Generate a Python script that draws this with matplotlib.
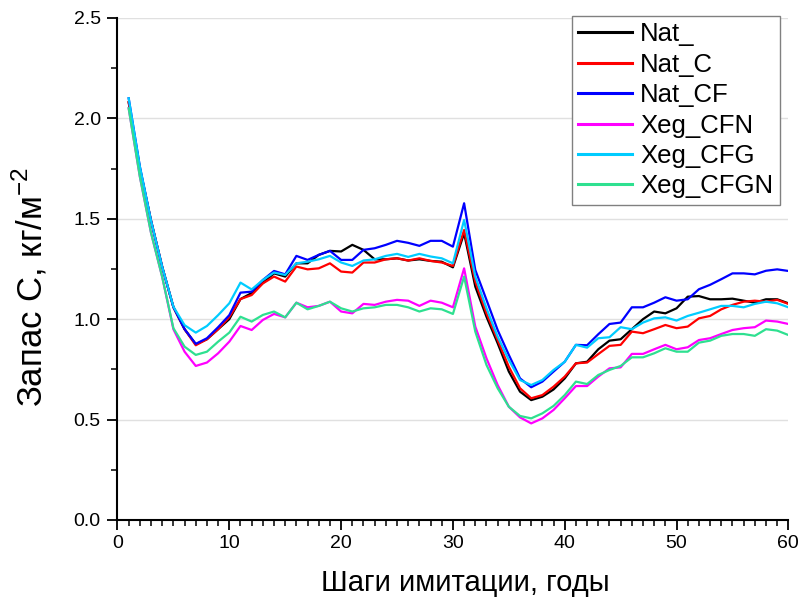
import matplotlib
matplotlib.use("Agg")
import matplotlib.pyplot as plt
from matplotlib.ticker import MultipleLocator

plt.rcParams['font.family'] = ['Liberation Sans', 'DejaVu Sans']

steps = list(range(1, 61))

nat = [2.08, 1.75, 1.49, 1.26, 1.06, 0.95, 0.875, 0.90, 0.95, 1.00, 1.10, 1.13,
       1.18, 1.228, 1.212, 1.278, 1.278, 1.32, 1.34, 1.337, 1.37, 1.345, 1.298, 1.298,
       1.303, 1.292, 1.298, 1.29, 1.286, 1.258, 1.428, 1.162, 1.012, 0.880, 0.739, 0.639,
       0.597, 0.614, 0.650, 0.705, 0.780, 0.788, 0.850, 0.893, 0.900, 0.950, 1.000, 1.038,
       1.029, 1.054, 1.112, 1.115, 1.099, 1.099, 1.102, 1.092, 1.082, 1.099, 1.099, 1.079]

nat_c = [2.08, 1.75, 1.49, 1.26, 1.06, 0.95, 0.87, 0.90, 0.95, 1.01, 1.10, 1.12,
         1.178, 1.212, 1.187, 1.262, 1.248, 1.253, 1.278, 1.237, 1.232, 1.282, 1.282, 1.298,
         1.303, 1.292, 1.303, 1.29, 1.282, 1.265, 1.444, 1.187, 1.029, 0.896, 0.763, 0.656,
         0.606, 0.622, 0.664, 0.714, 0.780, 0.784, 0.826, 0.867, 0.872, 0.938, 0.930, 0.950,
         0.971, 0.955, 0.963, 1.004, 1.016, 1.049, 1.071, 1.087, 1.092, 1.087, 1.096, 1.076]

nat_cf = [2.10, 1.76, 1.49, 1.26, 1.06, 0.95, 0.877, 0.905, 0.96, 1.02, 1.132, 1.137,
          1.195, 1.24, 1.223, 1.315, 1.295, 1.32, 1.34, 1.295, 1.295, 1.345, 1.353, 1.37,
          1.39, 1.38, 1.365, 1.39, 1.39, 1.361, 1.577, 1.245, 1.096, 0.946, 0.822, 0.705,
          0.661, 0.689, 0.739, 0.788, 0.872, 0.870, 0.925, 0.976, 0.983, 1.059, 1.059, 1.082,
          1.109, 1.092, 1.099, 1.149, 1.171, 1.199, 1.228, 1.228, 1.223, 1.241, 1.248, 1.24]

xeg_cfn = [2.05, 1.71, 1.43, 1.21, 0.95, 0.838, 0.767, 0.784, 0.83, 0.888, 0.966, 0.946,
           0.996, 1.026, 1.009, 1.082, 1.059, 1.066, 1.087, 1.038, 1.029, 1.076, 1.071, 1.087,
           1.096, 1.092, 1.066, 1.092, 1.082, 1.059, 1.253, 0.963, 0.805, 0.672, 0.564, 0.511,
           0.481, 0.506, 0.548, 0.606, 0.667, 0.667, 0.714, 0.755, 0.760, 0.827, 0.827, 0.850,
           0.872, 0.850, 0.860, 0.896, 0.905, 0.926, 0.946, 0.955, 0.960, 0.993, 0.988, 0.976]

xeg_cfg = [2.10, 1.76, 1.49, 1.26, 1.062, 0.97, 0.933, 0.966, 1.02, 1.079, 1.182, 1.148,
           1.195, 1.232, 1.22, 1.278, 1.286, 1.298, 1.315, 1.282, 1.265, 1.292, 1.298, 1.315,
           1.325, 1.31, 1.325, 1.312, 1.303, 1.278, 1.494, 1.212, 1.054, 0.913, 0.797, 0.697,
           0.672, 0.697, 0.747, 0.788, 0.872, 0.858, 0.905, 0.910, 0.960, 0.950, 0.983, 1.004,
           1.009, 0.993, 1.016, 1.032, 1.049, 1.066, 1.066, 1.059, 1.076, 1.087, 1.079, 1.059]

xeg_cfgn = [2.05, 1.71, 1.43, 1.21, 0.955, 0.863, 0.822, 0.838, 0.888, 0.933, 1.012, 0.988,
            1.021, 1.038, 1.009, 1.082, 1.049, 1.066, 1.087, 1.054, 1.038, 1.054, 1.059, 1.071,
            1.071, 1.059, 1.038, 1.054, 1.049, 1.026, 1.212, 0.938, 0.772, 0.656, 0.564, 0.518,
            0.506, 0.531, 0.568, 0.622, 0.689, 0.677, 0.722, 0.747, 0.767, 0.810, 0.810, 0.830,
            0.855, 0.838, 0.838, 0.883, 0.893, 0.917, 0.926, 0.926, 0.917, 0.950, 0.943, 0.921]

series = [
    ("Nat_", nat, "#000000"),
    ("Nat_C", nat_c, "#ff0000"),
    ("Nat_CF", nat_cf, "#0000ff"),
    ("Xeg_CFN", xeg_cfn, "#ff00ff"),
    ("Xeg_CFG", xeg_cfg, "#00ccff"),
    ("Xeg_CFGN", xeg_cfgn, "#2ee090"),
]

fig = plt.figure(figsize=(8.02, 5.97), dpi=100)
ax = fig.add_axes([0.1465, 0.129, 0.8365, 0.841])

for name, vals, col in series:
    ax.plot(steps, vals, color=col, lw=1.6, label=name)

ax.set_xlim(0, 60)
ax.set_ylim(0, 2.5)
ax.xaxis.set_major_locator(MultipleLocator(10))
ax.xaxis.set_minor_locator(MultipleLocator(1))
ax.yaxis.set_major_locator(MultipleLocator(0.5))
ax.yaxis.set_minor_locator(MultipleLocator(0.25))
ax.yaxis.set_major_formatter(matplotlib.ticker.FormatStrFormatter('%.1f'))

ax.grid(axis='y', which='major', color='#e0e0e0', lw=1.0)
ax.set_axisbelow(True)
for s in ['top', 'right']:
    ax.spines[s].set_visible(False)
for s in ['left', 'bottom']:
    ax.spines[s].set_linewidth(1.5)

ax.tick_params(which='major', direction='out', length=7, width=1.3, labelsize=14, colors='#000000')
ax.tick_params(which='minor', direction='out', length=4, width=1.1)
ax.tick_params(axis='y', which='major', pad=5)
ax.tick_params(axis='x', which='major', pad=4)

ax.set_xlabel('Шаги имитации, годы', fontsize=21)
ax.set_ylabel('Запас С, кг/м$^{\\mathregular{-2}}$', fontsize=25)
ax.xaxis.set_label_coords(0.519, -0.097)
ax.yaxis.set_label_coords(-0.101, 0.465)

leg = ax.legend(loc='upper right', bbox_to_anchor=(0.987, 1.004), fontsize=18.5,
                frameon=True, fancybox=False, edgecolor='#808080', framealpha=1,
                handlelength=2.1, handletextpad=0.3, labelspacing=0.25,
                borderpad=0.25, borderaxespad=0)
leg.get_frame().set_linewidth(1.0)
for l in leg.get_lines():
    l.set_linewidth(2.2)

fig.savefig('out.png', dpi=100)
